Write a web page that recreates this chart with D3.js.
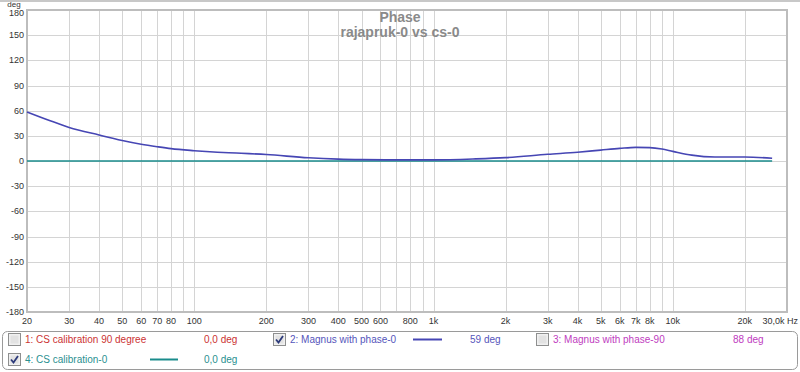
<!DOCTYPE html>
<html>
<head>
<meta charset="utf-8">
<style>
    body { margin: 0; background: #fff; }
    svg { display: block; font-family: 'Liberation Sans', Arial, sans-serif; }
</style>
</head>
<body>
<svg width="800" height="372"></svg>
<script src="https://d3js.org/d3.v7.min.js"></script>
<script>
// phase of "Magnus with phase-0"
let freqs = [20, 25, 30, 40, 50, 60, 70, 80, 100, 125, 150, 200, 300, 400, 500, 700, 1000, 1500, 2000, 3000, 4000, 5000, 6000, 7000, 8000, 9000, 10000, 12000, 15000, 20000, 26000]
let magnus = [58.5, 48, 40, 31, 24.5, 20, 17, 14.7, 12.3, 10.5, 9.5, 7.7, 3.8, 2.2, 1.6, 1.3, 1.3, 2.5, 4, 8, 10.5, 13, 15, 16.3, 16, 14.3, 11.5, 7, 4.8, 4.8, 3.3]
// CS calibration-0 is flat
let calFreqs = [20, 26000]
let calibration = [0, 0]

let yTicks = [180, 150, 120, 90, 60, 30, 0, -30, -60, -90, -120, -150, -180]
let gridFreqs = [30, 40, 50, 60, 70, 80, 90, 100, 200, 300, 400, 500, 600, 700, 800, 900, 1000,
    2000, 3000, 4000, 5000, 6000, 7000, 8000, 9000, 10000, 20000]
let xLabels = [
    [20, "20"], [30, "30"], [40, "40"], [50, "50"], [60, "60"], [70, "70"], [80, "80"], [100, "100"],
    [200, "200"], [300, "300"], [400, "400"], [500, "500"], [600, "600"], [800, "800"], [1000, "1k"],
    [2000, "2k"], [3000, "3k"], [4000, "4k"], [5000, "5k"], [6000, "6k"], [7000, "7k"], [8000, "8k"],
    [10000, "10k"], [20000, "20k"]
]

let svg = d3.select("svg")
let plot = { left: 27, right: 787, top: 10, bottom: 312 }

let x = d3.scaleLog().domain([20, 30000]).range([plot.left, plot.right])
let y = d3.scaleLinear().domain([-180, 180]).range([plot.bottom, plot.top])

// top edge of the picture
svg.append("rect").attr("x", 0).attr("y", 0).attr("width", 800).attr("height", 2).attr("fill", "#c8c8c8")

// grid
svg.append("g")
    .selectAll("line")
    .data(yTicks.filter(d => d != 180 && d != -180))
    .join("line")
    .attr("x1", plot.left).attr("x2", plot.right)
    .attr("y1", d => Math.round(y(d)) + 0.5).attr("y2", d => Math.round(y(d)) + 0.5)
    .attr("stroke", "#d4d4d4")

svg.append("g")
    .selectAll("line")
    .data(gridFreqs)
    .join("line")
    .attr("x1", d => Math.round(x(d)) + 0.5).attr("x2", d => Math.round(x(d)) + 0.5)
    .attr("y1", plot.top).attr("y2", plot.bottom)
    .attr("stroke", "#d4d4d4")

// frame
svg.append("rect")
    .attr("x", plot.left).attr("y", plot.top)
    .attr("width", plot.right - plot.left).attr("height", plot.bottom - plot.top)
    .attr("fill", "none").attr("stroke", "#bdbdbd").attr("stroke-width", 2)

// y labels
svg.append("g")
    .selectAll("text")
    .data(yTicks)
    .join("text")
    .attr("x", 24).attr("y", d => y(d) + (d == 180 ? 6 : 3))
    .attr("text-anchor", "end")
    .attr("font-size", 9).attr("fill", "#333")
    .text(d => d)

svg.append("text").attr("x", 14).attr("y", 7).attr("text-anchor", "middle")
    .attr("font-size", 8).attr("fill", "#333").text("deg")

// x labels
svg.append("g")
    .selectAll("text")
    .data(xLabels)
    .join("text")
    .attr("x", d => x(d[0])).attr("y", 324)
    .attr("text-anchor", "middle")
    .attr("font-size", 9).attr("fill", "#333")
    .text(d => d[1])

svg.append("text").attr("x", 798).attr("y", 324).attr("text-anchor", "end")
    .attr("font-size", 9).attr("fill", "#333").text("30,0k Hz")

// title
svg.append("text").attr("x", 400).attr("y", 22).attr("text-anchor", "middle")
    .attr("font-size", 14).attr("font-weight", "bold").attr("fill", "#8a8a8a").text("Phase")
svg.append("text").attr("x", 400).attr("y", 37).attr("text-anchor", "middle")
    .attr("font-size", 14).attr("font-weight", "bold").attr("fill", "#8a8a8a").text("rajapruk-0 vs cs-0")

// curves
let line = d3.line().x(d => x(d[0])).y(d => y(d[1])).curve(d3.curveMonotoneX)

svg.append("path")
    .attr("d", line(calFreqs.map((f, i) => [f, calibration[i]])))
    .attr("fill", "none").attr("stroke", "#1a8c8c").attr("stroke-width", 1.6)

svg.append("path")
    .attr("d", line(freqs.map((f, i) => [f, magnus[i]])))
    .attr("fill", "none").attr("stroke", "#4646b4").attr("stroke-width", 1.6)

// legend
svg.append("rect")
    .attr("x", 2.5).attr("y", 331.5).attr("width", 795).attr("height", 38)
    .attr("rx", 5).attr("fill", "#fff").attr("stroke", "#9a9a9a")

function checkbox(cx, cy, checked) {
    let g = svg.append("g").attr("transform", `translate(${cx},${cy})`)
    g.append("rect").attr("x", 0.5).attr("y", 0.5).attr("width", 12).attr("height", 12)
        .attr("fill", "#f0f0f0").attr("stroke", "#8e8f8f")
    g.append("rect").attr("x", 2.5).attr("y", 2.5).attr("width", 8).attr("height", 8)
        .attr("fill", "#e2e2e2")
    if (checked) {
        g.append("path").attr("d", "M3,6.5 L5.5,9.5 L10,3")
            .attr("fill", "none").attr("stroke", "#2c3a7a").attr("stroke-width", 1.8)
    }
}

let legendItems = [
    { x: 8, y: 333, checked: false, label: "1: CS calibration 90 degree", color: "#cc3333", sample: null, value: "0,0 deg", vx: 204 },
    { x: 273, y: 333, checked: true, label: "2: Magnus with phase-0", color: "#5555bb", sample: [413, 442, "#4646b4"], value: "59 deg", vx: 470 },
    { x: 536, y: 333, checked: false, label: "3: Magnus with phase-90", color: "#c03cc0", sample: null, value: "88 deg", vx: 733 },
    { x: 8, y: 353, checked: true, label: "4: CS calibration-0", color: "#2a9090", sample: [150, 178, "#1a8c8c"], value: "0,0 deg", vx: 204 }
]

legendItems.forEach(d => {
    checkbox(d.x, d.y, d.checked)
    svg.append("text").attr("x", d.x + 17).attr("y", d.y + 10)
        .attr("font-size", 10).attr("fill", d.color).text(d.label)
    if (d.sample) {
        svg.append("line").attr("x1", d.sample[0]).attr("x2", d.sample[1])
            .attr("y1", d.y + 6.5).attr("y2", d.y + 6.5)
            .attr("stroke", d.sample[2]).attr("stroke-width", 2)
    }
    svg.append("text").attr("x", d.vx).attr("y", d.y + 10)
        .attr("font-size", 10).attr("fill", d.color).text(d.value)
})
</script>
</body>
</html>
